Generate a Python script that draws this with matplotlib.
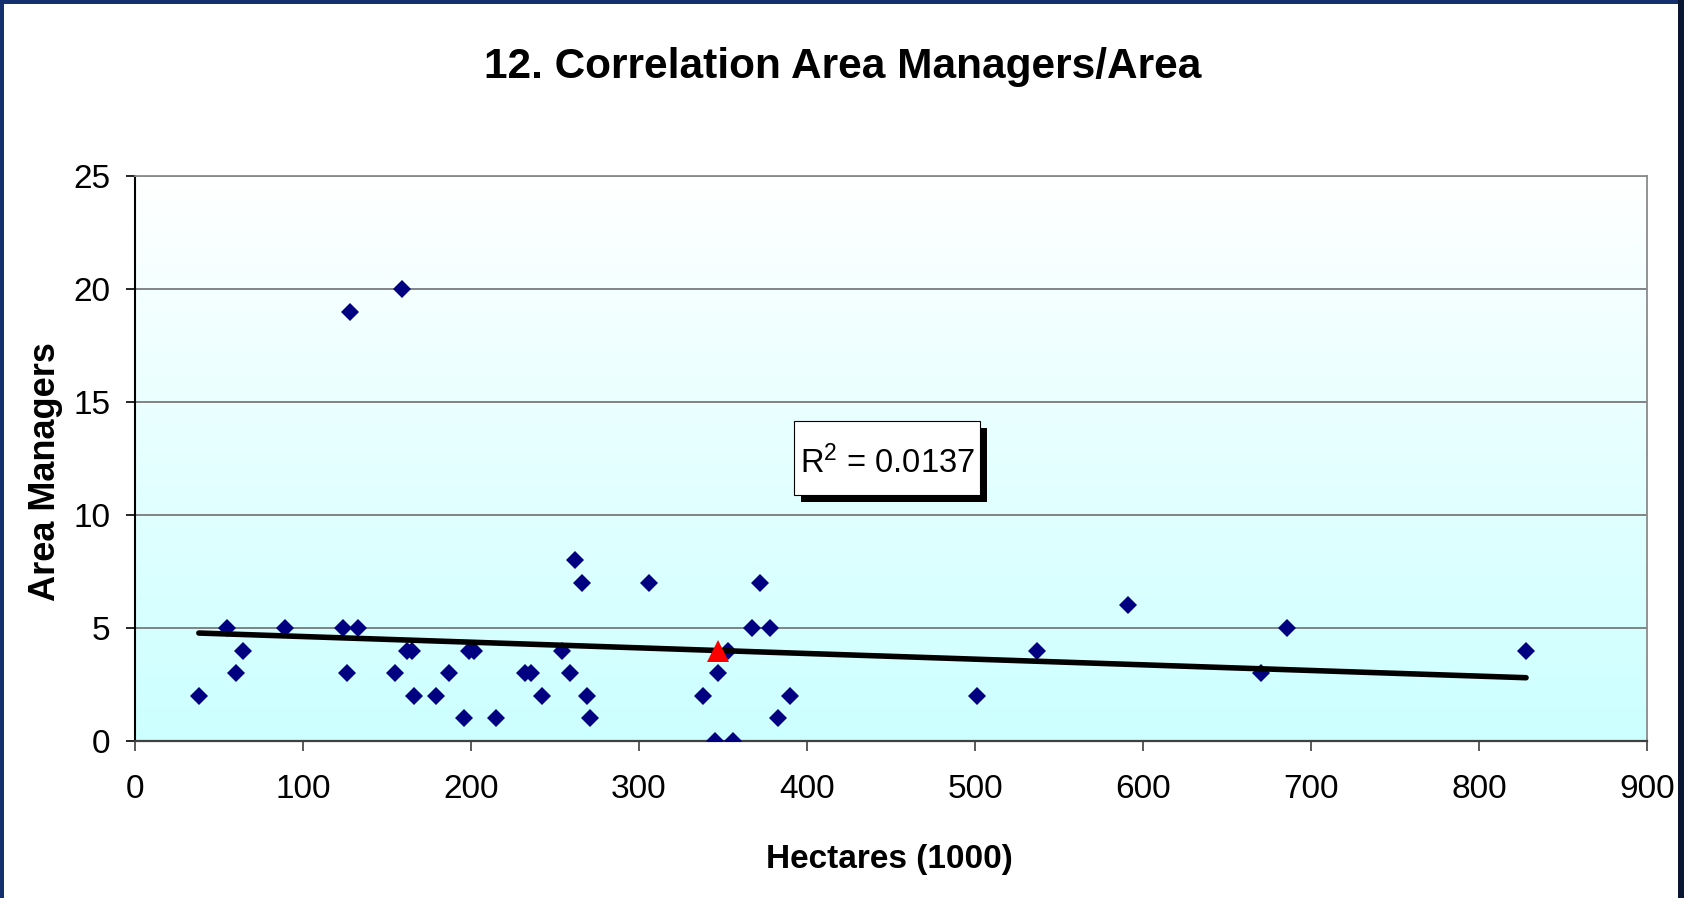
import numpy as np
import matplotlib
matplotlib.use('Agg')
import matplotlib.pyplot as plt
from matplotlib.colors import LinearSegmentedColormap
from matplotlib.patches import Rectangle

plt.rcParams['font.family'] = ['Liberation Sans', 'DejaVu Sans']
plt.rcParams['mathtext.fontset'] = 'custom'
plt.rcParams['mathtext.rm'] = 'Liberation Sans'
plt.rcParams['mathtext.default'] = 'regular'

# hectares (1000) and number of area managers
hectares = [38, 55, 60, 64, 89, 124, 126, 128, 133, 155, 159, 162, 165, 166,
            179, 187, 196, 199, 202, 215, 232, 236, 242, 254, 259, 262, 266,
            269, 271, 306, 338, 345, 347, 353, 356, 367, 372, 378, 383, 390,
            501, 537, 591, 670, 686, 828]
managers = [2, 5, 3, 4, 5, 5, 3, 19, 5, 3, 20, 4, 4, 2,
            2, 3, 1, 4, 4, 1, 3, 3, 2, 4, 3, 8, 7,
            2, 1, 7, 2, 0, 3, 4, 0, 5, 7, 5, 1, 2,
            2, 4, 6, 3, 5, 4]
# highlighted point (red triangle)
own_x = [347]
own_y = [4]
r2_label = 'R$^2$ = 0.0137'

x_ticks = list(range(0, 1000, 100))
y_ticks = list(range(0, 30, 5))

fig = plt.figure(figsize=(16.84, 8.98), dpi=100)
fig.patch.set_facecolor('#14306e')
# white page inside the dark frame, darker strip on the right
fig.patches.append(Rectangle((4 / 1684, 0), 1674 / 1684, 894 / 898,
                             transform=fig.transFigure, facecolor='white',
                             edgecolor='none', zorder=-2))
fig.patches.append(Rectangle((1678 / 1684, 0), 6 / 1684, 1,
                             transform=fig.transFigure, facecolor='#0b1633',
                             edgecolor='none', zorder=-2))

ax = fig.add_axes([135 / 1684, 157 / 898, 1512 / 1684, 565 / 898])

# background gradient: white at top, light cyan at bottom
cmap = LinearSegmentedColormap.from_list('bg', ['#ccffff', '#ffffff'])
grad = np.linspace(0, 1, 256).reshape(-1, 1)
ax.imshow(grad, cmap=cmap, origin='lower', aspect='auto',
          extent=[0, 900, 0, 25], zorder=0)

ax.set_xlim(0, 900)
ax.set_ylim(0, 25)
ax.set_xticks(x_ticks)
ax.set_yticks(y_ticks)
ax.yaxis.grid(True, color='#7a7a7a', linewidth=1.3, zorder=1)
ax.set_axisbelow(True)

ax.tick_params(axis='both', direction='out', labelsize=24, colors='black')
ax.tick_params(axis='y', length=6.5, width=1.2, pad=11)
ax.tick_params(axis='x', length=7.5, width=1.2, pad=16, color='#404040')

ax.spines['left'].set_color('black')
ax.spines['left'].set_linewidth(1.5)
ax.spines['bottom'].set_color('#404040')
ax.spines['bottom'].set_linewidth(1.6)
for s in ['top', 'right']:
    ax.spines[s].set_color('#8a8a8a')
    ax.spines[s].set_linewidth(1.3)

ax.plot(hectares, managers, linestyle='none', marker='D', markersize=9,
        markeredgewidth=0, color='#000080', zorder=3)

# linear trend line
coef = np.polyfit(hectares, managers, 1)
xs = np.array([min(hectares), max(hectares)])
ax.plot(xs, np.polyval(coef, xs), color='black', linewidth=4,
        solid_capstyle='round', zorder=4)

ax.plot(own_x, own_y, linestyle='none', marker='^', markersize=16,
        markeredgewidth=0, color='red', zorder=5)

# R^2 box with shadow
bx, by, bw, bh = 0.4358, 0.4354, 0.1230, 0.1315
ax.add_patch(Rectangle((bx + 0.0046, by - 0.0124), bw, bh, transform=ax.transAxes,
                       facecolor='black', edgecolor='none', zorder=6))
ax.add_patch(Rectangle((bx, by), bw, bh, transform=ax.transAxes,
                       facecolor='white', edgecolor='black', linewidth=0.8, zorder=7))
ax.text(0.4974, 0.4749, r2_label, transform=ax.transAxes, fontsize=23.5,
        ha='center', va='baseline', zorder=8)

fig.text(843 / 1684, 1 - 78 / 898, '12. Correlation Area Managers/Area',
         fontsize=30.5, fontweight='bold', ha='center', va='baseline')
fig.text(889 / 1684, 1 - 868 / 898, 'Hectares (1000)', fontsize=24,
         fontweight='bold', ha='center', va='baseline')
fig.text(45.5 / 1684, 1 - 472 / 898, 'Area Managers', fontsize=26,
         fontweight='bold', rotation=90, ha='center', va='center')

fig.savefig('out.png', dpi=100, facecolor=fig.get_facecolor())
